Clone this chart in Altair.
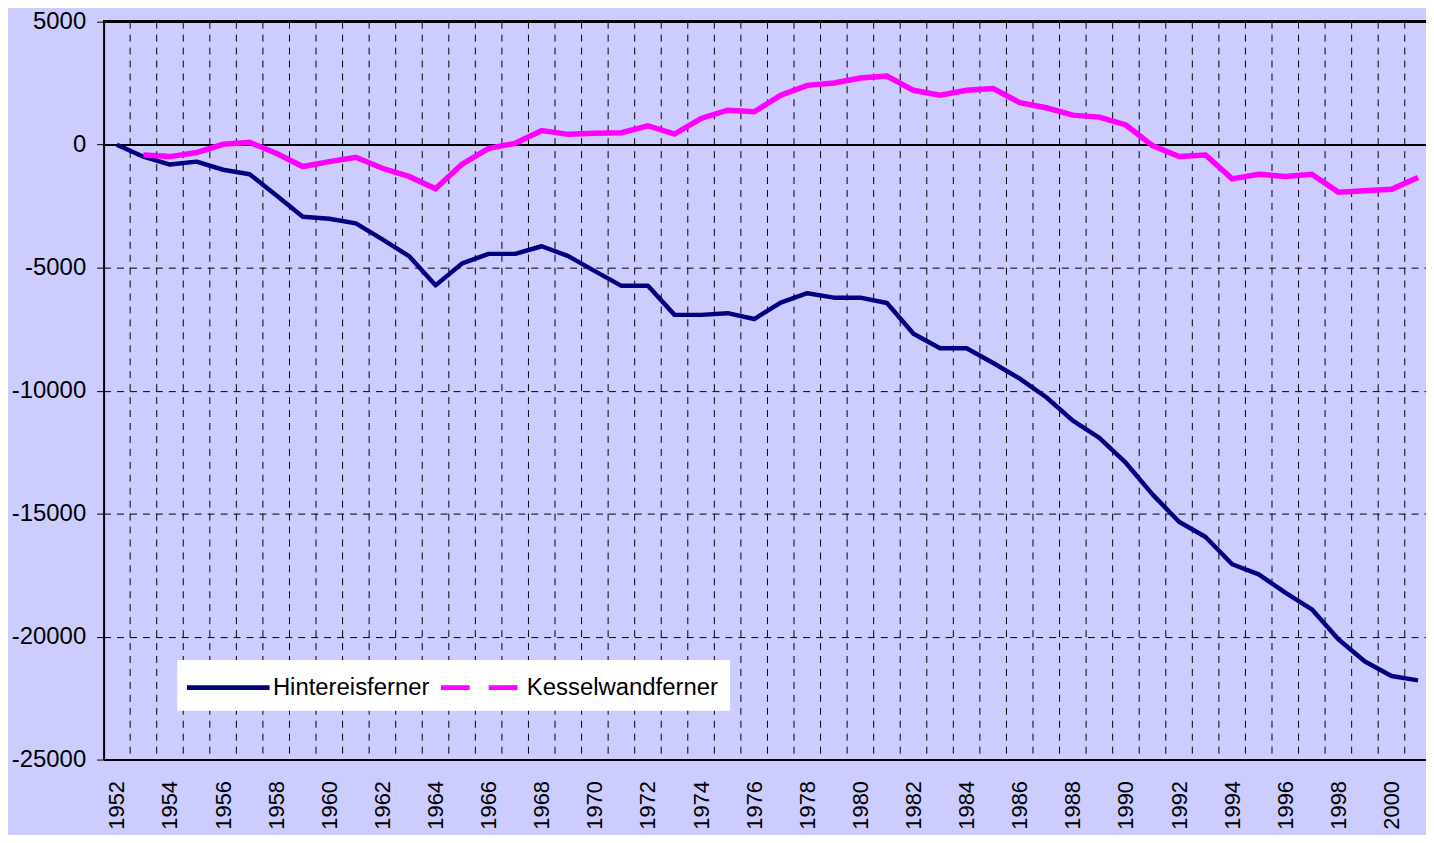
import altair as alt
import pandas as pd

# ---------------- data ----------------
years = list(range(1952, 2002))
hintereis = [0, -490, -810, -690, -1020, -1200, -2060, -2930, -3010, -3200,
             -3850, -4530, -5720, -4830, -4440, -4440, -4130, -4530, -5140, -5740,
             -5740, -6920, -6920, -6850, -7090, -6420, -6040, -6220, -6220, -6440,
             -7690, -8280, -8280, -8880, -9510, -10270, -11220, -11920, -12940, -14220,
             -15330, -15950, -17060, -17470, -18210, -18890, -20110, -21010, -21600, -21780]
kessel_years = list(range(1953, 2002))
kessel = [-420, -485, -320, 15, 95, -350, -890, -690, -510, -960,
          -1290, -1790, -790, -150, 55, 570, 420, 460, 485, 770,
          430, 1065, 1400, 1335, 2010, 2410, 2510, 2710, 2790, 2210,
          2010, 2210, 2280, 1710, 1500, 1200, 1120, 800, -40, -485,
          -420, -1390, -1200, -1290, -1200, -1930, -1870, -1810, -1330]

series_names = ["Hintereisferner", "Kesselwandferner"]
series_colors = ["#000080", "#FF00FF"]
series_dash = [[1, 0], [29, 19]]
y_ticks = [5000, 0, -5000, -10000, -15000, -20000, -25000]
x_label_years = list(range(1952, 2001, 2))

rows = [{"year": y, "value": v, "series": series_names[0]} for y, v in zip(years, hintereis)]
rows += [{"year": y, "value": v, "series": series_names[1]} for y, v in zip(kessel_years, kessel)]
df = pd.DataFrame(rows)
bounds = pd.DataFrame({"b": [y + 0.5 for y in years[:-1]]})

FONT = "Liberation Sans"

x_scale = alt.Scale(domain=[1951.5, 2001.3], nice=False, zero=False)
y_scale = alt.Scale(domain=[-25000, 5000], nice=False, zero=False)

x_axis = alt.Axis(
    values=x_label_years, labelAngle=270, labelFontSize=22, labelFont=FONT,
    labelColor="black", labelPadding=21, ticks=False, grid=False,
    domainColor="black", domainWidth=2, title=None, labelFlush=False,
    labelOverlap=False, labelExpr="'' + datum.value")
y_axis = alt.Axis(
    values=y_ticks, grid=True, gridColor="black", gridDash=[7, 6], gridWidth=1,
    tickColor="black", tickSize=7, tickWidth=1, labelFontSize=24, labelFont=FONT,
    labelColor="black", labelPadding=11, domainColor="black", domainWidth=2,
    title=None, labelExpr="'' + datum.value")

x_year = alt.X("year:Q", scale=x_scale, axis=x_axis)
y_val = alt.Y("value:Q", scale=y_scale, axis=y_axis)

legend = alt.Legend(
    title=None, orient="none", legendX=74, legendY=641, direction="horizontal",
    fillColor="white", padding=11, labelFont=FONT, labelFontSize=24,
    labelColor="black", labelLimit=400, symbolType="M-3,0H3", symbolSize=765.6,
    symbolStrokeWidth=5, symbolOffset=23.7, labelOffset=28.3, columnPadding=0)

vgrid = alt.Chart(bounds).mark_rule(color="black", strokeWidth=1, strokeDash=[7, 6]).encode(
    x=alt.X("b:Q", scale=x_scale, axis=x_axis))

zero_rule = alt.Chart(df).mark_rule(color="black", strokeWidth=1.5).encode(
    y=alt.YDatum(0, type="quantitative", scale=y_scale, axis=y_axis))
top_rule = alt.Chart(df).mark_rule(color="black", strokeWidth=2.5).encode(
    y=alt.YDatum(5000, type="quantitative", scale=y_scale, axis=y_axis))

navy = alt.Chart(df).transform_filter(alt.datum.series == series_names[0]).mark_line(
    color=series_colors[0], strokeWidth=4.5, strokeJoin="round").encode(x=x_year, y=y_val)
magenta = alt.Chart(df).transform_filter(alt.datum.series == series_names[1]).mark_line(
    color=series_colors[1], strokeWidth=5.5).encode(x=x_year, y=y_val)

legend_driver = alt.Chart(df).transform_filter("datum.value > 1e9").mark_line(strokeWidth=5).encode(
    x=x_year, y=y_val,
    color=alt.Color("series:N", scale=alt.Scale(domain=series_names, range=series_colors), legend=legend),
    strokeDash=alt.StrokeDash("series:N", scale=alt.Scale(domain=series_names, range=series_dash), legend=legend),
)

chart = alt.layer(vgrid, zero_rule, top_rule, navy, magenta, legend_driver).properties(
    width=1328, height=741,
    autosize=alt.AutoSizeParams(type="none"),
    padding={"left": 96, "top": 12, "right": 0, "bottom": 74},
    background="#CCCCFF",
).configure_view(stroke=None)

chart.save("out.html", embed_options={"renderer": "svg", "actions": False})
